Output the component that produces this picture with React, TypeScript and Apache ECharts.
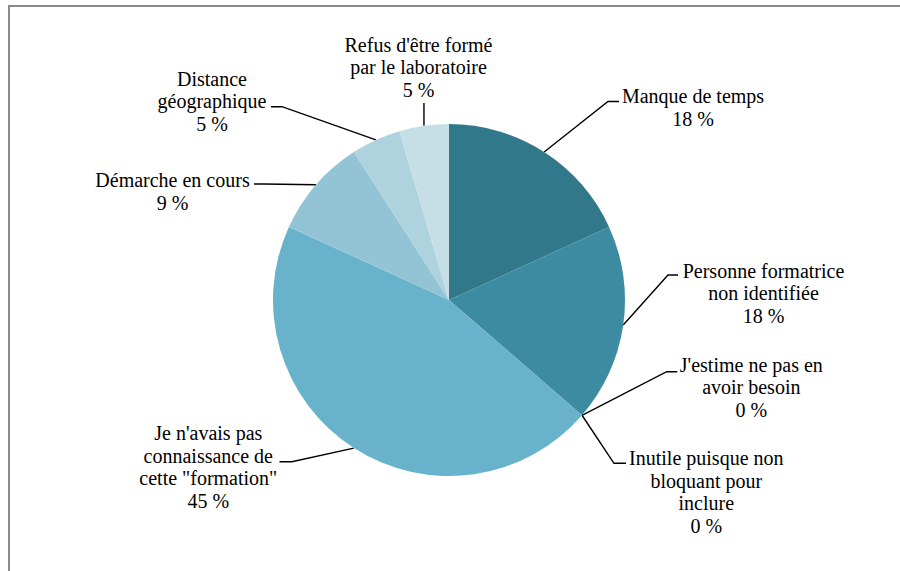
import React, { useEffect, useRef } from "react";
import * as echarts from "echarts";

// Category labels (with the line breaks used in the reference)
const categories: string[] = [
  "Manque de temps",
  "Personne formatrice\nnon identifiée",
  "J'estime ne pas en\navoir besoin",
  "Inutile puisque non\nbloquant pour\ninclure",
  "Je n'avais pas\nconnaissance de\ncette \"formation\"",
  "Démarche en cours",
  "Distance\ngéographique",
  "Refus d'être formé\npar le laboratoire",
];

// Response counts (percentages 18, 18, 0, 0, 45, 9, 5, 5)
const counts: number[] = [4, 4, 0, 0, 10, 2, 1, 1];

const sliceColors: string[] = [
  "#31788A",
  "#3C8BA0",
  "#4C9DB5",
  "#58A8C1",
  "#68B3CB",
  "#93C4D6",
  "#AFD2DF",
  "#C6DFE7",
];

// Label placement: centre x, top y, end of leader line, elbow offset
const labelPlacement = [
  { x: 693, y: 85, end: [619, 101.5], elbow: -11 },
  { x: 763.5, y: 259.5, end: [678, 275], elbow: -10 },
  { x: 751.3, y: 353.5, end: [677.3, 371.7], elbow: -10.6 },
  { x: 706.3, y: 447, end: [626, 463.3], elbow: -12 },
  { x: 208.3, y: 422, end: [279.5, 461.7], elbow: 12.4 },
  { x: 172.5, y: 169, end: [254, 184], elbow: 10 },
  { x: 212, y: 67.5, end: [271, 106.7], elbow: 11 },
  { x: 418.5, y: 33.5, end: [424, 103], elbow: 0 },
];

const FONT = "Times New Roman";

export default function App() {
  const ref = useRef<HTMLDivElement>(null);

  useEffect(() => {
    if (!ref.current) return;
    const chart = echarts.init(ref.current, undefined, { renderer: "svg" });

    const option: any = {
      animation: false,
      series: [
        {
          type: "pie",
          center: [449, 300],
          radius: 176,
          startAngle: 90,
          clockwise: true,
          avoidLabelOverlap: false,
          percentPrecision: 0,
          emphasis: { disabled: true },
          label: {
            show: true,
            position: "outside",
            color: "#000000",
            fontFamily: FONT,
            fontSize: 20,
            lineHeight: 22.5,
            align: "center",
            formatter: (p: any) => `${p.name}\n${p.percent} %`,
          },
          labelLine: {
            show: true,
            smooth: false,
            length: 20,
            length2: 10,
            lineStyle: { color: "#000000", width: 1.4 },
          },
          labelLayout: (params: any) => {
            const lp = labelPlacement[params.dataIndex];
            if (!lp) return {};
            const anchor =
              params.labelLinePoints && params.labelLinePoints[0]
                ? params.labelLinePoints[0]
                : [lp.end[0], lp.end[1]];
            const pts =
              lp.elbow === 0
                ? [anchor, [anchor[0], lp.end[1]]]
                : [anchor, [lp.end[0] + lp.elbow, lp.end[1]], lp.end];
            return {
              x: lp.x,
              y: lp.y,
              align: "center",
              verticalAlign: "top",
              labelLinePoints: pts,
            };
          },
          data: categories.map((name, i) => ({
            name,
            value: counts[i],
            itemStyle: { color: sliceColors[i] },
          })),
        },
      ],
    };

    chart.setOption(option);
    return () => chart.dispose();
  }, []);

  return (
    <div
      style={{
        position: "fixed",
        left: 0,
        top: 0,
        width: 900,
        height: 571,
        overflow: "hidden",
        background: "#ffffff",
      }}
    >
      <div
        style={{
          position: "absolute",
          left: 8,
          top: 5,
          width: 1000,
          height: 1000,
          borderLeft: "2px solid #8a8a8a",
          borderTop: "2px solid #8a8a8a",
        }}
      />
      <div
        ref={ref}
        style={{ position: "absolute", left: 0, top: 0, width: 900, height: 571 }}
      />
    </div>
  );
}
